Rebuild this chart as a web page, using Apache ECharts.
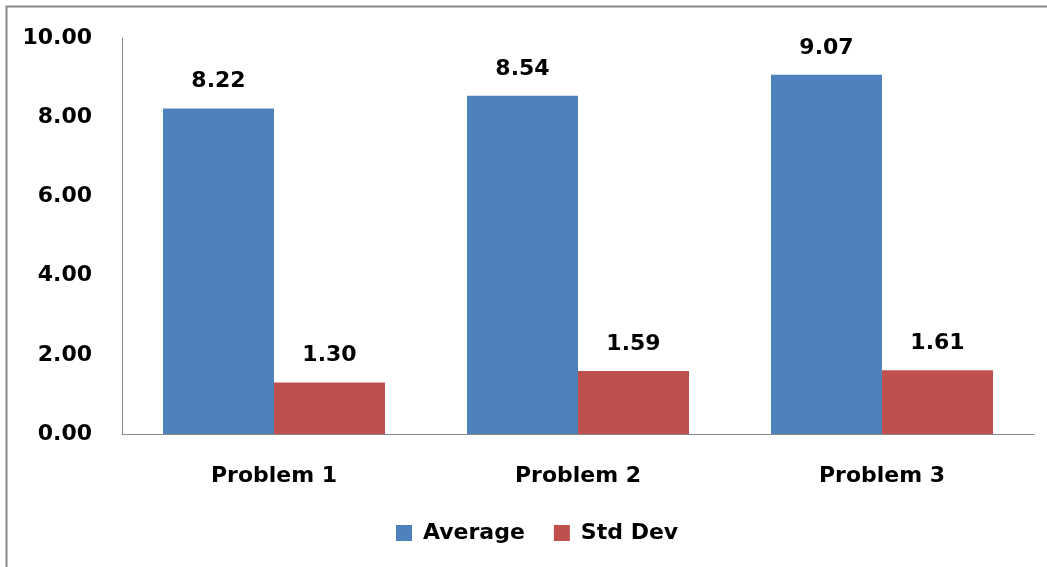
<!DOCTYPE html>
<html>
<head>
<meta charset="utf-8">
<script src="https://cdn.jsdelivr.net/npm/echarts@6/dist/echarts.min.js"></script>
<style>html,body{margin:0;padding:0;background:#fff}#c{width:1047px;height:567px}</style>
</head>
<body>
<div id="c"></div>
<script>
const categories = ['Problem 1', 'Problem 2', 'Problem 3'];
const averageValues = [8.22, 8.54, 9.07];
const stdDevValues = [1.30, 1.59, 1.61];
const seriesNames = ['Average', 'Std Dev'];

const FONT = 'DejaVu Sans';
const chart = echarts.init(document.getElementById('c'));
chart.setOption({
  animation: false,
  textStyle: { fontFamily: FONT },
  graphic: [{
    type: 'rect', left: 4, top: 4,
    shape: { width: 1100, height: 700 },
    style: { fill: 'none', stroke: '#888', lineWidth: 2 }
  }],
  grid: { left: 122, right: 13, top: 38, bottom: 133 },
  legend: {
    bottom: 18, left: 391,
    itemWidth: 16, itemHeight: 16, itemGap: 29,
    icon: 'rect',
    textStyle: { fontFamily: FONT, fontWeight: 'bold', fontSize: 22, color: '#000', padding: [0, 0, 0, 6] },
    data: seriesNames
  },
  xAxis: {
    type: 'category', data: categories,
    axisLine: { lineStyle: { color: '#888', width: 1 } },
    axisTick: { show: false },
    axisLabel: { margin: 31, fontFamily: FONT, fontWeight: 'bold', fontSize: 22, color: '#000' }
  },
  yAxis: {
    type: 'value', min: 0, max: 10, interval: 2,
    axisLine: { show: true, lineStyle: { color: '#888', width: 1 } },
    axisTick: { show: false },
    splitLine: { show: false },
    axisLabel: { margin: 30, fontFamily: FONT, fontWeight: 'bold', fontSize: 22, color: '#000',
      formatter: v => v.toFixed(2) }
  },
  series: [
    { name: seriesNames[0], type: 'bar', data: averageValues, barWidth: 111, barGap: '0%',
      itemStyle: { color: '#4F81BD' },
      label: { show: true, position: 'top', distance: 16, fontFamily: FONT, fontWeight: 'bold', fontSize: 22, color: '#000',
        formatter: p => p.value.toFixed(2) } },
    { name: seriesNames[1], type: 'bar', data: stdDevValues, barWidth: 111,
      itemStyle: { color: '#C0504D' },
      label: { show: true, position: 'top', distance: 16, fontFamily: FONT, fontWeight: 'bold', fontSize: 22, color: '#000',
        formatter: p => p.value.toFixed(2) } }
  ]
});
</script>
</body>
</html>
